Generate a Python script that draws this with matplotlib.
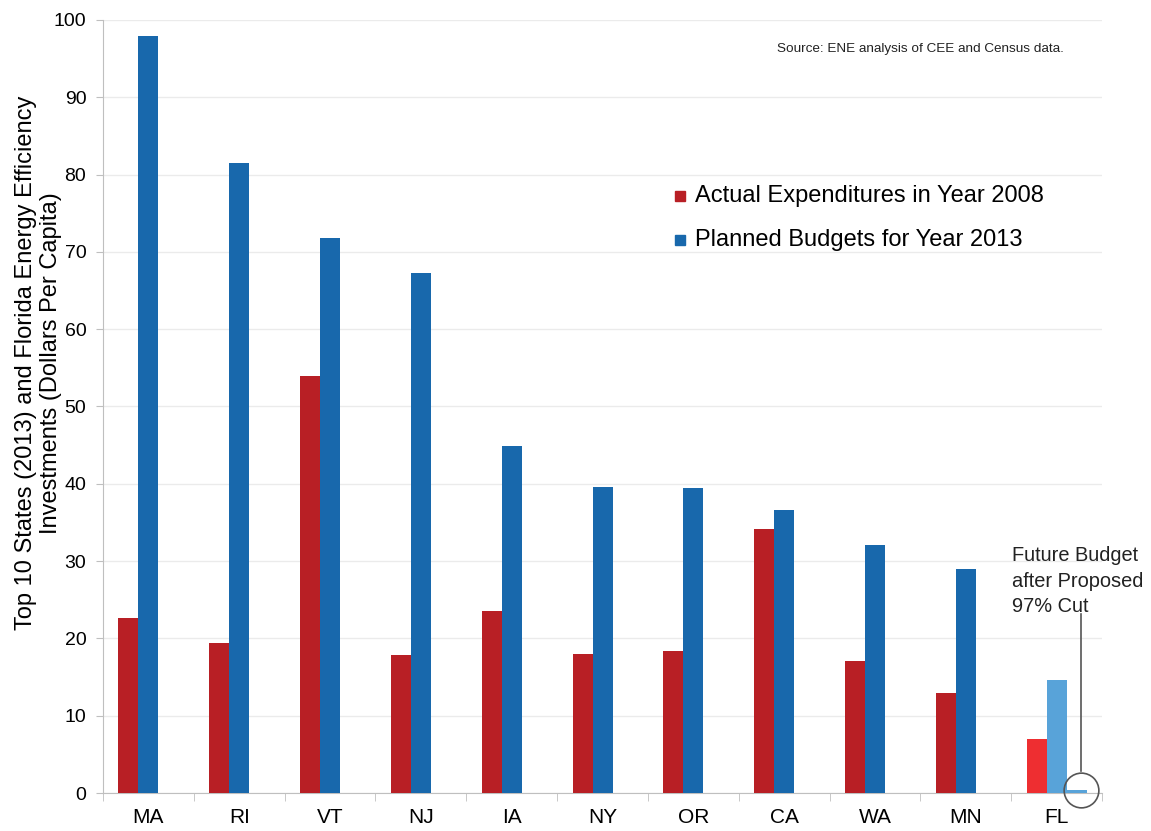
import numpy as np
import matplotlib.pyplot as plt

plt.rcParams['font.family'] = ['Liberation Sans', 'DejaVu Sans']

states = ['MA', 'RI', 'VT', 'NJ', 'IA', 'NY', 'OR', 'CA', 'WA', 'MN', 'FL']
actual_2008 = [22.7, 19.4, 53.9, 17.9, 23.5, 18.0, 18.4, 34.2, 17.1, 12.9, 7.0]
planned_2013 = [97.9, 81.5, 71.8, 67.3, 44.9, 39.6, 39.4, 36.6, 32.1, 29.0, 14.6]
fl_future = 0.45

red = '#B81F25'
blue = '#1868AC'
fl_red = '#EE2E31'
fl_blue = '#58A3D9'

fig = plt.figure(figsize=(11.51, 8.31), dpi=100)
ax = fig.add_axes([0.0895, 0.0457, 0.868, 0.9303])

x = np.arange(len(states))
w = 0.22
red_cols = [red] * (len(states) - 1) + [fl_red]
blue_cols = [blue] * (len(states) - 1) + [fl_blue]
ax.bar(x - w, actual_2008, w, color=red_cols, zorder=3)
ax.bar(x, planned_2013, w, color=blue_cols, zorder=3)
ax.bar(x[-1] + w, fl_future, w, color=fl_blue, zorder=3)

# circle + pointer line for the FL cut
cx = x[-1] + w * 1.2
ax.plot([cx], [0.4], marker='o', markersize=25, mfc='none', mec='#555555',
        mew=1.2, zorder=5, clip_on=False)
ax.plot([cx, cx], [2.8, 23.2], color='#555555', lw=1.2, zorder=5)
ax.text(x[-1] - 0.49, 27.4, 'Future Budget\nafter Proposed\n97% Cut', fontsize=14.4,
        ha='left', va='center', color='#222222', linespacing=1.45)

ax.set_xlim(-0.5, len(states) - 0.5)
ax.set_ylim(0, 100)
ax.set_yticks(range(0, 101, 10))
ax.set_xticks(x)
ax.set_xticklabels(states, fontsize=15)
ax.set_xticks(np.arange(-0.5, len(states), 1), minor=True)
ax.tick_params(axis='x', which='major', length=0, pad=11)
ax.tick_params(axis='x', which='minor', length=6, color='#BFBFBF')
ax.tick_params(axis='y', labelsize=14, length=5, color='#BFBFBF', pad=7)
ax.grid(axis='y', color='#EBEBEB', lw=1, zorder=0)
for s in ['top', 'right']:
    ax.spines[s].set_visible(False)
for s in ['left', 'bottom']:
    ax.spines[s].set_color('#BFBFBF')

ax.set_ylabel('Top 10 States (2013) and Florida Energy Efficiency\nInvestments (Dollars Per Capita)',
              fontsize=17, linespacing=1.2)
ax.yaxis.set_label_coords(-0.041, 0.556)

# legend
ax.plot([5.857], [77.2], marker='s', markersize=7.5, color=red, ls='none')
ax.text(6.017, 77.2, 'Actual Expenditures in Year 2008', fontsize=17, va='center')
ax.plot([5.857], [71.5], marker='s', markersize=7.5, color=blue, ls='none')
ax.text(6.017, 71.5, 'Planned Budgets for Year 2013', fontsize=17, va='center')

ax.text(0.962, 0.962, 'Source: ENE analysis of CEE and Census data.', transform=ax.transAxes,
        fontsize=9.7, ha='right', va='center', color='#222222')

fig.savefig('out.png', dpi=100)
